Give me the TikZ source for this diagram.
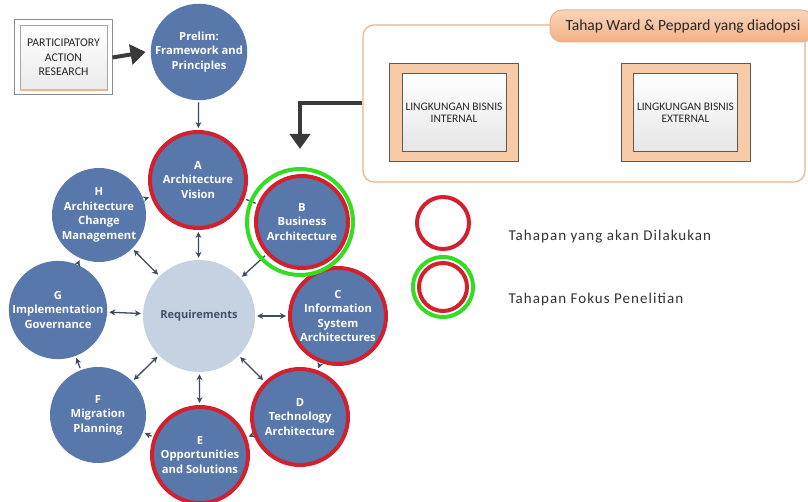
\documentclass[tikz,border=0pt]{standalone}
\usepackage{fontspec}
\setmainfont{Carlito}
\newfontfamily\legendfont[LetterSpace=7]{Carlito}
\newfontfamily\phasefont{Open Sans}
\usetikzlibrary{arrows.meta}

\definecolor{phaseblue}{HTML}{5877AA}
\definecolor{reqblue}{HTML}{C5D2E2}
\definecolor{reqtext}{HTML}{3F5068}
\definecolor{ringred}{HTML}{D3202E}
\definecolor{focusgreen}{HTML}{33DD22}
\definecolor{linkgray}{HTML}{3D4B5E}
\definecolor{tanfill}{HTML}{F7CBA8}
\definecolor{tanline}{HTML}{E9B48A}
\definecolor{tabfill}{HTML}{F4B183}
\definecolor{heavygray}{HTML}{3A3A3A}

\tikzset{
  phase/.style={circle, fill=phaseblue, text=white, inner sep=0pt, align=center,
    font=\phasefont\fontsize{11.2}{14.5}\selectfont\bfseries, minimum size=#1},
  staged/.style={draw=ringred, line width=4pt},
  link/.style={draw=linkgray, line width=1.3pt, shorten <=2pt, shorten >=2pt},
  tip/.style={-{Stealth[length=6pt,width=6pt]}},
  both/.style={{Stealth[length=6pt,width=6pt]}-{Stealth[length=6pt,width=6pt]}},
  heavy/.style={draw=heavygray, line width=4pt, -{Triangle[length=15pt,width=20pt]}},
  tanbox/.style={rectangle, fill=tanfill, draw=black!65, line width=1pt,
    minimum width=129pt, minimum height=98pt},
  envbox/.style={rectangle, top color=white, bottom color=black!10, draw=black!65,
    line width=1pt, minimum width=104pt, minimum height=78pt, align=center,
    inner sep=1pt, font=\fontsize{11.5}{12.5}\selectfont, text=black!85}
}

\begin{document}
\begin{tikzpicture}[x=1pt,y=-1pt]
\useasboundingbox (0,0) rectangle (808,502);

% source box
\node[rectangle, fill=white, draw=black!45, line width=1pt,
  minimum width=98pt, minimum height=75pt] (parout) at (63,57.5) {};
\node[rectangle, top color=white, bottom color=black!8, draw=black!35,
  minimum width=87pt, minimum height=65pt, align=center, inner sep=1pt,
  font=\fontsize{11.8}{14.5}\selectfont, text=black!85] (par) at (63.5,57.5)
  {PARTICIPATORY\\ACTION\\RESEARCH};
\draw[tabfill, line width=2pt] (par.south west) -- (par.south east);

% ADM cycle
\node[phase=94pt] (prelim) at (199,52) {Prelim:\\Framework and\\Principles};
\node[phase=96pt, staged] (A) at (198,180) {A\\Architecture\\Vision};
\node[phase=92pt, staged] (B) at (302,222) {B\\Business\\Architecture};
\node[phase=96pt, staged] (C) at (338,316) {C\\Information\\System\\Architectures};
\node[phase=96pt, staged] (D) at (300,417) {D\\Technology\\Architecture};
\node[phase=96pt, staged] (E) at (200,455) {E\\Opportunities\\and Solutions};
\node[phase=96pt] (F) at (98,415) {F\\Migration\\Planning};
\node[phase=96pt] (G) at (58,310) {G\\Implementation\\Governance};
\node[phase=94pt] (H) at (99,215) {H\\Architecture\\Change\\Management};
\node[circle, fill=reqblue, inner sep=0pt, minimum size=112pt, text=reqtext,
  font=\phasefont\fontsize{11}{14}\selectfont\bfseries] (req) at (199,316) {Requirements};

\draw[link, tip] (prelim) -- (A);
\draw[link, tip] (H) -- (A);
\draw[link] (A) -- (B);
\draw[link, tip] (C) -- (D);
\draw[link, tip] (D) -- (E);
\draw[link, tip] (E) -- (F);
\draw[link, tip] (F) -- (G);
\draw[link, tip] (G) -- (H);

\draw[link, both] (A) -- (req);
\draw[link, tip] (B) -- (req);
\draw[link, both] (H) -- (req);
\draw[link, both] (G) -- (req);
\draw[link, both] (C) -- (req);
\draw[link, both] (F) -- (req);
\draw[link, both] (D) -- (req);
\draw[link, both] (E) -- (req);

\node[circle, draw=focusgreen, line width=4pt, inner sep=0pt,
  minimum size=106pt] (Bfocus) at (300,222) {};

% Ward & Peppard
\node[rectangle, rounded corners=11pt, draw=tanline, line width=1.2pt, fill=white,
  minimum width=442pt, minimum height=157pt] (ward) at (584,103.5) {};
\node[rectangle, rounded corners=12pt, top color=tabfill!55, bottom color=tabfill,
  draw=tanline, line width=1pt, minimum width=264pt, minimum height=32pt] (tab)
  at (682,26) {};
\node[anchor=west, text=black!85, font=\fontsize{15.5}{17}\selectfont] (tabtext)
  at (562,26) {Tahap Ward \& Peppard yang diadopsi};

\node[tanbox] (intout) at (453.5,113) {};
\node[envbox] (internal) at (454,113) {LINGKUNGAN BISNIS\\INTERNAL};
\node[tanbox] (extout) at (685.5,113) {};
\node[envbox] (external) at (685.5,113) {LINGKUNGAN BISNIS\\EXTERNAL};

% heavy arrows
\coordinate (drop) at (300,149);
\draw[heavy] (parout.east) -- ([xshift=-5pt]prelim.west);
\draw[heavy] (ward.west) -| (drop);

% legend
\node[circle, draw=ringred, line width=4pt, inner sep=0pt, minimum size=52pt]
  (legstaged) at (443,223) {};
\node[circle, draw=focusgreen, line width=4pt, inner sep=0pt, minimum size=60pt]
  (legfocusout) at (443,287) {};
\node[circle, draw=ringred, line width=4pt, inner sep=0pt, minimum size=48pt]
  (legfocus) at (443,287) {};
\node[anchor=west, text=black!80, font=\legendfont\fontsize{15}{17}\selectfont]
  (legtext1) at (505,237) {Tahapan yang akan Dilakukan};
\node[anchor=west, text=black!80, font=\legendfont\fontsize{15}{17}\selectfont]
  (legtext2) at (505,300) {Tahapan Fokus Penelitian};
\end{tikzpicture}
\end{document}
